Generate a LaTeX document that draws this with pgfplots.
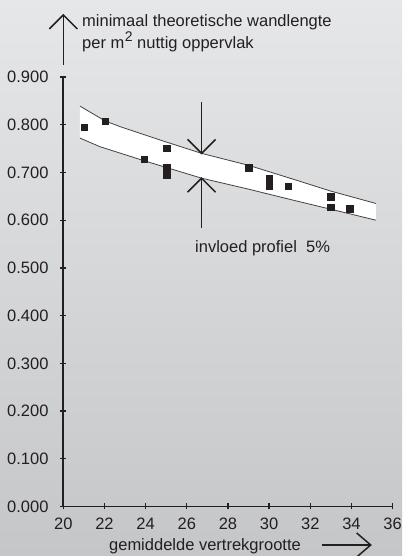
\documentclass[border=0pt]{standalone}
\usepackage{fontspec}
\setmainfont{Liberation Sans}
\usepackage{pgfplots}
\pgfplotsset{compat=1.18}
\definecolor{ink}{RGB}{35,31,32}
\definecolor{bgtop}{RGB}{230,231,233}
\definecolor{bgbot}{RGB}{197,198,200}
\begin{document}
\fontsize{16.5bp}{19bp}\selectfont
\begin{tikzpicture}[x=1bp,y=1bp]
\shade[top color=bgtop,bottom color=bgbot] (0,0) rectangle (402,556);
\begin{axis}[
  at={(63.3bp,49.5bp)}, anchor=south west,
  x=20.58bp, y=477.2bp,
  xmin=20, xmax=36, ymin=0, ymax=0.9,
  axis line style={draw=none},
  tick pos=left,
  tick align=center,
  major tick length=6bp,
  tick style={ink, line width=1.3bp},
  xtick={20,22,24,26,28,30,32,34,36},
  ytick={0,0.1,0.2,0.3,0.4,0.5,0.6,0.7,0.8,0.9},
  scaled y ticks=false,
  tick label style={font=\fontsize{16.5bp}{19bp}\selectfont, text=ink},
  yticklabel style={/pgf/number format/fixed, /pgf/number format/fixed zerofill, /pgf/number format/precision=3, /pgf/number format/assume math mode=true, anchor=east, inner sep=0pt, xshift=-11.6bp},
  xticklabel style={/pgf/number format/assume math mode=true, anchor=north, inner sep=0pt, yshift=-8.5bp},
  clip=false,
]
% band
\addplot[fill=white, draw=none, forget plot] coordinates {
  (20.81,0.839) (22.03,0.808) (22.76,0.796) (24.70,0.768) (26.72,0.740)
  (29.00,0.715) (31.16,0.686) (32.99,0.661) (35.19,0.635)
  (35.19,0.600) (32.99,0.623) (31.16,0.642) (29.00,0.665) (26.72,0.688)
  (23.89,0.725) (21.78,0.754) (20.81,0.772)
} -- cycle;
\addplot[draw=ink!85, line width=0.8bp, mark=none] coordinates {
  (20.81,0.839) (22.03,0.808) (22.76,0.796) (24.70,0.768) (26.72,0.740)
  (29.00,0.715) (31.16,0.686) (32.99,0.661) (35.19,0.635)
};
\addplot[draw=ink!85, line width=0.8bp, mark=none] coordinates {
  (20.81,0.772) (21.78,0.754) (23.89,0.725) (26.72,0.688)
  (29.00,0.665) (31.16,0.642) (32.99,0.623) (35.19,0.600)
};
% measured points
\addplot[only marks, mark=square*, mark size=3.1bp, ink] coordinates {
  (21.00,0.794) (22.03,0.808) (23.92,0.727) (25.02,0.750) (25.02,0.710)
  (25.02,0.695) (29.01,0.710) (30.00,0.687) (30.00,0.672) (30.92,0.672)
  (32.99,0.649) (32.99,0.628) (33.92,0.624)
};
% axes
\draw[ink, line width=1.8bp] (axis cs:20,0) -- (axis cs:20,0.9);
\draw[ink, line width=1.8bp] (axis cs:19.85,0) -- (axis cs:36,0);
% y-axis arrow
\draw[ink, line width=1.5bp] (axis cs:20,0.925) -- (axis cs:20,1.030);
\draw[ink, line width=1.5bp] (axis cs:20,1.030) ++(-14bp,-14bp) -- ++(14bp,14bp) -- ++(14bp,-14bp);
% profile arrows
\draw[ink, line width=1.5bp] (axis cs:26.72,0.848) -- (axis cs:26.72,0.740);
\draw[ink, line width=1.5bp] (axis cs:26.72,0.740) ++(-14bp,14bp) -- ++(14bp,-14bp) -- ++(14bp,14bp);
\draw[ink, line width=1.5bp] (axis cs:26.72,0.584) -- (axis cs:26.72,0.688);
\draw[ink, line width=1.5bp] (axis cs:26.72,0.688) ++(-14bp,-14bp) -- ++(14bp,14bp) -- ++(14bp,-14bp);
\end{axis}
% texts
\node[anchor=north west, inner sep=0pt, text=ink, align=left, font={\fontsize{16.5bp}{20bp}\selectfont}] at (82,541.3) {minimaal theoretische wandlengte\\per m\kern0.5bp\raisebox{7.2bp}{\fontsize{14bp}{14bp}\selectfont 2} nuttig oppervlak};
\node[anchor=base west, inner sep=0pt, text=ink] at (195,303) {invloed profiel\ \ 5\%};
\node[anchor=base, inner sep=0pt, text=ink] at (205,5) {gemiddelde vertrekgrootte};
% x-label arrow
\draw[ink, line width=1.5bp] (321.7,11) -- (370.7,11);
\draw[ink, line width=1.5bp] (356.7,23) -- (370.7,11) -- (356.7,-1);
\pgfresetboundingbox
\useasboundingbox (0,0) rectangle (402,556);
\end{tikzpicture}
\end{document}
